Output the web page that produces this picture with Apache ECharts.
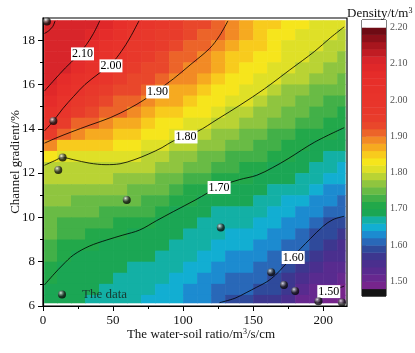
<!DOCTYPE html>
<html>
<head>
<meta charset="utf-8">
<title>Density contour</title>
<script src="https://cdn.jsdelivr.net/npm/echarts@6/dist/echarts.min.js"></script>
<style>
html, body { margin: 0; padding: 0; background: #fff; }
#chart { width: 415px; height: 353px; }
</style>
</head>
<body>
<div id="chart"></div>
<script>
var serif = '"Liberation Serif", "DejaVu Serif", serif';

// density field: one row per channel gradient (top to bottom),
// one column per water-soil ratio
var ratioCols = [5, 15, 25, 35, 45, 55, 65, 75, 85, 95, 105, 115, 125, 135, 145, 155, 165, 175, 185, 195, 205, 215];
var gradientRows = [18.75, 18.25, 17.75, 17.25, 16.75, 16.25, 15.75, 15.25, 14.75, 14.25, 13.75, 13.25, 12.75,
	12.25, 11.75, 11.25, 10.75, 10.25, 9.75, 9.25, 8.75, 8.25, 7.75, 7.25, 6.75, 6.25];
var densityRows = [
	[2.118, 2.115, 2.112, 2.105, 2.085, 2.05, 2.012, 1.986, 1.966, 1.95, 1.937, 1.923, 1.912, 1.892, 1.876, 1.858, 1.846, 1.834, 1.825, 1.816, 1.81, 1.80],
	[2.116, 2.113, 2.108, 2.095, 2.06, 2.029, 1.994, 1.973, 1.955, 1.94, 1.927, 1.915, 1.903, 1.88, 1.864, 1.849, 1.837, 1.826, 1.818, 1.809, 1.803, 1.793],
	[2.114, 2.111, 2.105, 2.074, 2.039, 2.011, 1.979, 1.96, 1.943, 1.929, 1.917, 1.907, 1.89, 1.868, 1.853, 1.84, 1.828, 1.819, 1.811, 1.803, 1.794, 1.782],
	[2.112, 2.108, 2.092, 2.051, 2.02, 1.993, 1.965, 1.947, 1.931, 1.917, 1.908, 1.895, 1.877, 1.856, 1.843, 1.83, 1.82, 1.811, 1.805, 1.793, 1.782, 1.771],
	[2.109, 2.103, 2.063, 2.028, 2.002, 1.974, 1.95, 1.934, 1.92, 1.907, 1.896, 1.88, 1.863, 1.845, 1.832, 1.821, 1.812, 1.804, 1.794, 1.781, 1.773, 1.766],
	[2.105, 2.079, 2.035, 2.005, 1.98, 1.956, 1.935, 1.921, 1.907, 1.895, 1.88, 1.865, 1.849, 1.833, 1.822, 1.812, 1.805, 1.792, 1.781, 1.769, 1.761, 1.754],
	[2.089, 2.049, 2.007, 1.979, 1.957, 1.937, 1.921, 1.908, 1.894, 1.878, 1.864, 1.85, 1.836, 1.821, 1.811, 1.804, 1.792, 1.779, 1.769, 1.757, 1.749, 1.742],
	[2.061, 2.019, 1.977, 1.954, 1.935, 1.919, 1.906, 1.892, 1.876, 1.86, 1.848, 1.835, 1.822, 1.809, 1.801, 1.79, 1.779, 1.767, 1.755, 1.745, 1.737, 1.73],
	[2.033, 1.985, 1.948, 1.928, 1.912, 1.90, 1.888, 1.873, 1.857, 1.843, 1.832, 1.82, 1.808, 1.797, 1.787, 1.777, 1.765, 1.754, 1.743, 1.732, 1.724, 1.716],
	[2.004, 1.945, 1.918, 1.903, 1.889, 1.878, 1.867, 1.854, 1.839, 1.826, 1.816, 1.805, 1.794, 1.782, 1.772, 1.763, 1.752, 1.741, 1.731, 1.72, 1.712, 1.704],
	[1.942, 1.904, 1.886, 1.874, 1.865, 1.857, 1.846, 1.835, 1.82, 1.809, 1.80, 1.789, 1.777, 1.767, 1.758, 1.749, 1.739, 1.728, 1.717, 1.708, 1.70, 1.693],
	[1.881, 1.855, 1.85, 1.846, 1.84, 1.836, 1.826, 1.815, 1.802, 1.792, 1.784, 1.773, 1.761, 1.752, 1.743, 1.736, 1.725, 1.715, 1.706, 1.696, 1.687, 1.68],
	[1.833, 1.805, 1.814, 1.817, 1.817, 1.814, 1.804, 1.797, 1.786, 1.777, 1.768, 1.756, 1.745, 1.736, 1.729, 1.722, 1.712, 1.702, 1.694, 1.684, 1.675, 1.667],
	[1.797, 1.791, 1.793, 1.795, 1.796, 1.794, 1.788, 1.782, 1.771, 1.761, 1.752, 1.74, 1.729, 1.721, 1.714, 1.708, 1.699, 1.691, 1.683, 1.672, 1.662, 1.655],
	[1.788, 1.78, 1.781, 1.781, 1.781, 1.779, 1.773, 1.766, 1.755, 1.745, 1.735, 1.724, 1.713, 1.706, 1.70, 1.696, 1.689, 1.681, 1.671, 1.66, 1.649, 1.642],
	[1.778, 1.77, 1.769, 1.768, 1.766, 1.764, 1.758, 1.751, 1.74, 1.73, 1.719, 1.708, 1.698, 1.694, 1.69, 1.686, 1.679, 1.67, 1.66, 1.648, 1.637, 1.63],
	[1.769, 1.76, 1.757, 1.754, 1.752, 1.748, 1.742, 1.735, 1.725, 1.714, 1.703, 1.696, 1.689, 1.685, 1.681, 1.676, 1.669, 1.659, 1.648, 1.635, 1.624, 1.617],
	[1.759, 1.75, 1.745, 1.741, 1.737, 1.733, 1.727, 1.72, 1.709, 1.699, 1.694, 1.687, 1.679, 1.675, 1.671, 1.666, 1.658, 1.648, 1.637, 1.623, 1.611, 1.605],
	[1.75, 1.739, 1.733, 1.727, 1.723, 1.718, 1.712, 1.705, 1.697, 1.692, 1.686, 1.679, 1.67, 1.665, 1.661, 1.656, 1.648, 1.638, 1.625, 1.611, 1.598, 1.591],
	[1.74, 1.729, 1.72, 1.714, 1.708, 1.703, 1.699, 1.695, 1.69, 1.684, 1.678, 1.671, 1.66, 1.656, 1.651, 1.646, 1.638, 1.627, 1.614, 1.598, 1.583, 1.575],
	[1.73, 1.719, 1.708, 1.70, 1.698, 1.695, 1.692, 1.689, 1.682, 1.677, 1.67, 1.662, 1.65, 1.646, 1.642, 1.636, 1.628, 1.616, 1.602, 1.583, 1.568, 1.559],
	[1.721, 1.708, 1.699, 1.695, 1.692, 1.689, 1.686, 1.682, 1.675, 1.67, 1.662, 1.654, 1.641, 1.637, 1.632, 1.626, 1.618, 1.605, 1.586, 1.567, 1.553, 1.544],
	[1.711, 1.699, 1.694, 1.69, 1.687, 1.683, 1.679, 1.675, 1.667, 1.662, 1.654, 1.645, 1.631, 1.627, 1.622, 1.616, 1.608, 1.593, 1.568, 1.551, 1.538, 1.528],
	[1.702, 1.694, 1.689, 1.685, 1.681, 1.677, 1.673, 1.668, 1.66, 1.655, 1.646, 1.637, 1.622, 1.617, 1.613, 1.606, 1.597, 1.578, 1.551, 1.535, 1.523, 1.512],
	[1.695, 1.69, 1.685, 1.68, 1.676, 1.671, 1.666, 1.662, 1.652, 1.647, 1.638, 1.628, 1.612, 1.608, 1.603, 1.594, 1.581, 1.563, 1.533, 1.519, 1.508, 1.497],
	[1.69, 1.685, 1.68, 1.675, 1.67, 1.665, 1.66, 1.655, 1.645, 1.64, 1.63, 1.62, 1.603, 1.598, 1.59, 1.578, 1.565, 1.548, 1.516, 1.503, 1.492, 1.481]
];

// measured samples (black dots)
var sampleRatio = [2.8, 7.4, 14, 10.9, 59.8, 126.9, 162.9, 172, 180, 196.6, 213.4];
var sampleGradient = [18.84, 14.35, 12.7, 12.14, 10.79, 9.54, 7.52, 6.95, 6.68, 6.22, 6.16];

// contour lines traced on the map, [ratio, gradient]
var line220 = [[1, 18.3], [4, 18.42], [7, 18.62], [8.6, 18.87]];
var line210 = [[1, 15.7], [8, 16.2], [16, 16.75], [24, 17.25], [31, 17.8], [36, 18.3], [40.5, 18.87]];
var line200 = [[1, 13.9], [7.4, 14.35], [14, 14.9], [21.7, 15.45], [30, 16.0], [40, 16.5], [49, 16.95], [56, 17.5], [62, 18.1], [68.5, 18.87]];
var line190 = [[1, 13.35], [10, 13.6], [20, 13.85], [33.6, 14.17], [48, 14.5], [62, 14.93], [72, 15.3], [81, 15.7], [93, 16.25], [105, 16.88], [119, 17.63], [126, 18.2], [132, 18.87]];
var line180 = [[1, 12.35], [8, 12.55], [14, 12.7], [22, 12.6], [33, 12.45], [45, 12.38], [55, 12.42], [65, 12.6], [75, 12.85], [85, 13.15], [93, 13.45], [110, 13.87], [125, 14.45], [140.7, 15.07], [158, 15.8], [176, 16.65], [194, 17.5], [205, 18.1], [215, 18.6]];
var line170 = [[1, 6.95], [8, 7.45], [14, 7.85], [21.7, 8.3], [33, 8.7], [45.5, 8.98], [57, 9.2], [69, 9.43], [81, 9.85], [93, 10.26], [108.6, 10.78], [126, 11.39], [140, 11.7], [152.6, 11.9], [164, 12.25], [175, 12.65], [194, 13.4], [215, 14.05]];
var line160 = [[126, 6.15], [137, 6.35], [145, 6.6], [152.6, 6.85], [160, 7.1], [166, 7.4], [172, 7.8], [178, 8.2], [184, 8.6], [191, 9.05], [200, 9.6], [207, 9.9], [215, 10.05]];
var line150 = [[194, 6.15], [200, 6.4], [206, 6.65], [215, 6.9]];
var contourLabels = [[28.2, 17.38, '2.10'], [48.5, 16.84, '2.00'], [81.8, 15.66, '1.90'], [102.1, 13.63, '1.80'],
	[125.7, 11.35, '1.70'], [178.6, 8.19, '1.60'], [204, 6.65, '1.50']];

// axes
var ratioTicks = [0, 50, 100, 150, 200];
var ratioMinorTicks = [25, 75, 125, 175];
var gradientTicks = [6, 8, 10, 12, 14, 16, 18];
var gradientMinorTicks = [7, 9, 11, 13, 15, 17];
var densityTicks = [1.5, 1.6, 1.7, 1.8, 1.9, 2.0, 2.1, 2.2];

// colour scale: band edges and one colour per band
var levelEdges = [1.46, 1.48, 1.50, 1.52, 1.54, 1.56, 1.58, 1.60, 1.62, 1.64, 1.66, 1.68, 1.70, 1.72, 1.74, 1.76, 1.78, 1.80,
	1.82, 1.84, 1.86, 1.88, 1.90, 1.92, 1.94, 1.96, 1.98, 2.00, 2.02, 2.04, 2.06, 2.08, 2.10, 2.12, 2.14, 2.16, 2.18, 2.20, 2.22];
var levelColors = ['#141414', '#76258c', '#67288f', '#582b8f', '#4a2f8e', '#3d378f', '#2f4a9b', '#2968b8', '#1c8bd0',
	'#12aed2', '#13b0a5', '#1ba654', '#22a84a', '#42b048', '#69bb45', '#8fc53f', '#b9d334', '#dfe027', '#f6e51c',
	'#f8cb1d', '#f6aa20', '#f28a25', '#ec6429', '#e9472b', '#e83c2b', '#e8382b', '#e8352b', '#e8332b', '#e7312a',
	'#e72f2a', '#e52c2a', '#e02829', '#d8252a', '#c01c23', '#a8161e', '#8c1019', '#6e0b14', '#ffffff'];

var cellW = 10, cellH = 0.5;
var fieldRatio = [0.8, 215.6];
var fieldGradient = [6.15, 18.9];

var chart = echarts.init(document.getElementById('chart'));

var fieldData = [];
gradientRows.forEach(function(g, r){
	ratioCols.forEach(function(q, c){
		fieldData.push([q, g, densityRows[r][c]]);
	});
});

var bandData = [];
var pieces = [];
for(var i = 0; i < levelColors.length; i++){
	var lo = levelEdges[i], hi = levelEdges[i + 1];
	bandData.push([0.5, lo, (lo + hi) / 2, hi]);
	pieces.push({gte: lo, lt: hi, color: levelColors[i]});
}

var samples = sampleRatio.map(function(q, i){ return [q, sampleGradient[i]]; });

function renderCell(params, api){
	var q = api.value(0), g = api.value(1);
	var x0 = Math.max(q - cellW / 2, fieldRatio[0]), x1 = Math.min(q + cellW / 2, fieldRatio[1]);
	var y0 = Math.max(g - cellH / 2, fieldGradient[0]), y1 = Math.min(g + cellH / 2, fieldGradient[1]);
	var a = api.coord([x0, y1]), b = api.coord([x1, y0]);
	return {
		type: 'rect',
		shape: {x: a[0], y: a[1], width: b[0] - a[0] + 0.6, height: b[1] - a[1] + 0.6},
		style: {fill: api.visual('color')}
	};
}

function renderBand(params, api){
	var a = api.coord([0, api.value(3)]), b = api.coord([1, api.value(1)]);
	return {
		type: 'rect',
		shape: {x: a[0], y: a[1], width: b[0] - a[0], height: b[1] - a[1] + 0.4},
		style: {fill: api.visual('color')}
	};
}

function contourSeries(pts){
	return {
		type: 'line', xAxisIndex: 0, yAxisIndex: 0,
		data: pts, smooth: 0.35, symbol: 'none', silent: true, z: 3,
		lineStyle: {color: '#000', width: 0.8}
	};
}

var tickText = {fontFamily: serif, fontSize: 13, color: '#111'};

var option = {
	animation: false,
	backgroundColor: '#fff',
	title: {
		text: 'Density/t/m{s|3}',
		left: 342, top: 2,
		textStyle: {
			fontFamily: serif, fontSize: 13, fontWeight: 'normal', color: '#111',
			rich: {s: {fontFamily: serif, fontSize: 8, verticalAlign: 'top', lineHeight: 8}}
		}
	},
	legend: {
		left: 53, top: 283,
		itemWidth: 30, itemHeight: 8,
		data: [{name: 'The data', icon: 'circle'}],
		textStyle: {fontFamily: serif, fontSize: 13, color: '#173a30'}
	},
	grid: [
		{left: 43, top: 18, width: 304, height: 288, show: true, borderColor: '#000', borderWidth: 1.2,
			containLabel: false, outerBoundsMode: 'none'},
		{left: 362, top: 20, width: 24, height: 276, show: true, borderColor: '#000', borderWidth: 1,
			containLabel: false, outerBoundsMode: 'none'}
	],
	xAxis: [{
		gridIndex: 0, type: 'value', min: 0, max: 217, interval: 50,
		name: 'The water-soil ratio/m{s|3}/s/cm', nameLocation: 'middle', nameGap: 22, nameMoveOverlap: false,
		nameTextStyle: {fontFamily: serif, fontSize: 13, color: '#111', padding: [0, 0, 0, 12],
			rich: {s: {fontFamily: serif, fontSize: 8, verticalAlign: 'top', lineHeight: 8}}},
		axisLine: {show: true, lineStyle: {color: '#000', width: 1.2}},
		axisTick: {show: true, length: 5, customValues: ratioTicks, lineStyle: {color: '#000'}},
		axisLabel: Object.assign({customValues: ratioTicks, margin: 8}, tickText),
		splitLine: {show: false}
	}, {
		gridIndex: 0, type: 'value', min: 0, max: 217, position: 'bottom',
		axisLine: {show: false},
		axisTick: {show: true, length: 3, customValues: ratioMinorTicks, lineStyle: {color: '#000'}},
		axisLabel: {show: false},
		splitLine: {show: false}
	}, {
		gridIndex: 1, type: 'value', min: 0, max: 1, show: false
	}],
	yAxis: [{
		gridIndex: 0, type: 'value', min: 6, max: 19, interval: 2,
		name: 'Channel gradient/%', nameLocation: 'middle', nameGap: 21, nameMoveOverlap: false,
		nameTextStyle: {fontFamily: serif, fontSize: 13, color: '#111'},
		axisLine: {show: true, lineStyle: {color: '#000', width: 1.2}},
		axisTick: {show: true, length: 5, customValues: gradientTicks, lineStyle: {color: '#000'}},
		axisLabel: Object.assign({customValues: gradientTicks, margin: 8}, tickText),
		splitLine: {show: false}
	}, {
		gridIndex: 0, type: 'value', min: 6, max: 19, position: 'left',
		axisLine: {show: false},
		axisTick: {show: true, length: 3, customValues: gradientMinorTicks, lineStyle: {color: '#000'}},
		axisLabel: {show: false},
		splitLine: {show: false}
	}, {
		gridIndex: 1, type: 'value', min: 1.46, max: 2.22, position: 'right',
		axisLine: {show: false},
		axisTick: {show: true, length: 4, customValues: densityTicks, lineStyle: {color: '#777'}},
		axisLabel: {customValues: densityTicks, margin: 4, fontFamily: serif, fontSize: 10, color: '#555',
			formatter: function(v){ return v.toFixed(2); }},
		splitLine: {show: false}
	}],
	visualMap: {
		type: 'piecewise', show: false, dimension: 2, seriesIndex: [0, 1],
		pieces: pieces
	},
	series: [{
		type: 'custom', xAxisIndex: 0, yAxisIndex: 0, z: 1, silent: true,
		renderItem: renderCell, data: fieldData
	}, {
		type: 'custom', xAxisIndex: 2, yAxisIndex: 2, z: 1, silent: true,
		renderItem: renderBand, data: bandData
	},
	contourSeries(line220), contourSeries(line210), contourSeries(line200), contourSeries(line190),
	contourSeries(line180), contourSeries(line170), contourSeries(line160), contourSeries(line150),
	{
		type: 'scatter', xAxisIndex: 0, yAxisIndex: 0, z: 4, silent: true,
		data: contourLabels, symbol: 'rect', symbolSize: 1,
		itemStyle: {color: '#fff', opacity: 1},
		label: {show: true, position: 'inside', formatter: function(p){ return p.value[2]; },
			backgroundColor: '#ffffff', padding: [1, 1, 0, 1], color: '#000', opacity: 1,
			textBorderWidth: 0, fontFamily: serif, fontSize: 12}
	}, {
		name: 'The data', type: 'scatter', xAxisIndex: 0, yAxisIndex: 0, z: 5,
		data: samples, symbol: 'circle', symbolSize: 8, clip: false,
		itemStyle: {
			color: {type: 'radial', x: 0.35, y: 0.3, r: 0.75, colorStops: [
				{offset: 0, color: '#ffffff'}, {offset: 0.25, color: '#8c8c8c'},
				{offset: 0.6, color: '#1c1c1c'}, {offset: 1, color: '#000000'}
			]}
		}
	}]
};

chart.setOption(option);
</script>
</body>
</html>
